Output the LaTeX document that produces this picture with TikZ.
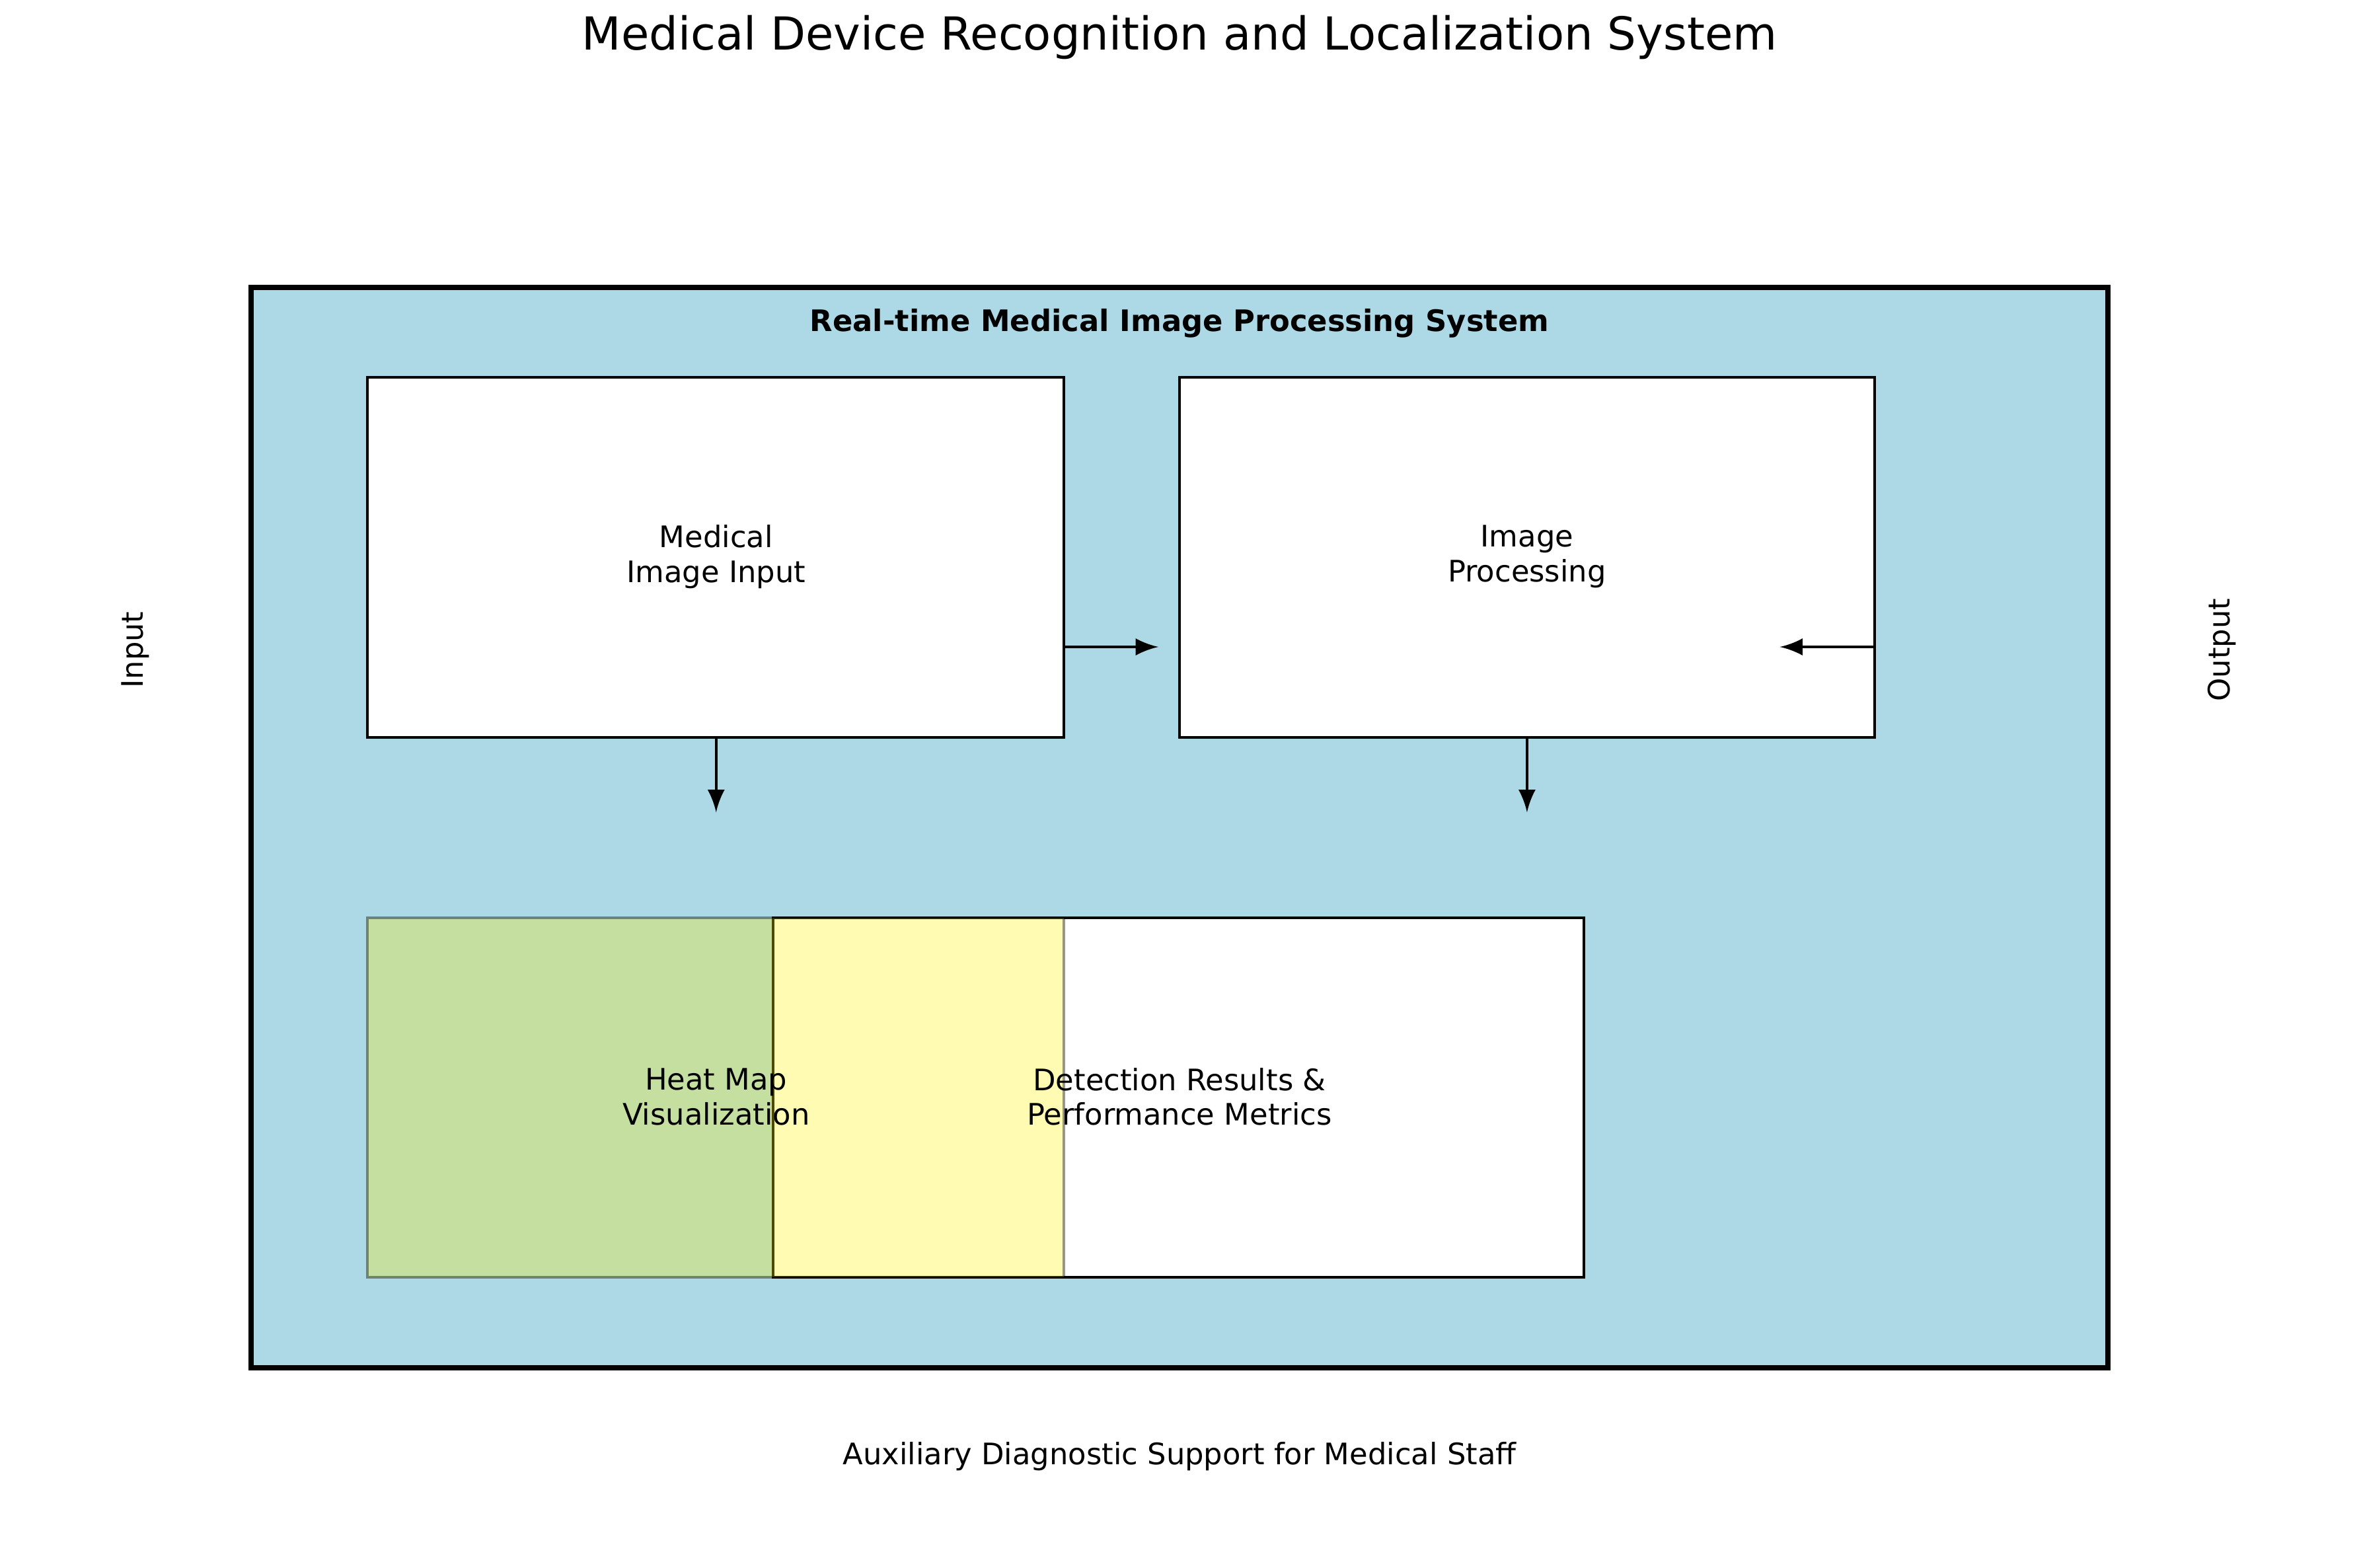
\documentclass[tikz,border=0pt]{standalone}
\usepackage{fontspec}
\setmainfont{DejaVu Sans}
\usetikzlibrary{calc}
\definecolor{sysblue}{HTML}{ADD8E6}
\newcommand{\lblsize}{\fontsize{5.6pt}{6.6pt}\selectfont}

\begin{document}
\begin{tikzpicture}[x=0.01cm,y=-0.01cm,>=latex,
    blk/.style={draw=black,line width=0.5pt,fill=white},
    lbl/.style={font=\lblsize,align=center}]

\useasboundingbox (0,0) rectangle (1568,1042);

% title
\node[font=\fontsize{8.6pt}{10pt}\selectfont] (title) at (784,25) {Medical Device Recognition and Localization System};

% outer system box
\draw[line width=1pt,fill=sysblue] (167,191) rectangle (1401,909);
\node[lbl,font=\lblsize\bfseries] (systitle) at (784,215) {Real-time Medical Image Processing System};

% blocks
\draw[blk] (244,251) rectangle (707,490);
\draw[blk] (784,251) rectangle (1246,490);
\draw[blk] (514,610) rectangle (1053,849);
\fill[yellow,opacity=0.3] (244,610) rectangle (707,849);
\draw[black,draw opacity=0.4,line width=0.5pt] (244,610) rectangle (707,849);

\node[lbl] (input) at (476,370) {Medical\\Image Input};
\node[lbl] (proc) at (1015,370) {Image\\Processing};
\node[lbl] (heat) at (476,729) {Heat Map\\Visualization};
\node[lbl] (detect) at (784,729) {Detection Results \&\\Performance Metrics};

% arrow ends
\coordinate (a1) at (707,430);
\coordinate (a2) at (770,430);
\coordinate (b1) at (1246,430);
\coordinate (b2) at (1183,430);
\coordinate (c1) at (476,490);
\coordinate (c2) at (476,540);
\coordinate (d1) at (1015,490);
\coordinate (d2) at (1015,540);

\foreach \s/\t in {a1/a2, b1/b2, c1/c2, d1/d2}
    \draw[->,line width=0.5pt] (\s) -- (\t);

% side and bottom labels
\node[lbl,rotate=90] (inlbl) at (90,432) {Input};
\node[lbl,rotate=90] (outlbl) at (1477,432) {Output};
\node[lbl] (support) at (784,968) {Auxiliary Diagnostic Support for Medical Staff};

\end{tikzpicture}
\end{document}
